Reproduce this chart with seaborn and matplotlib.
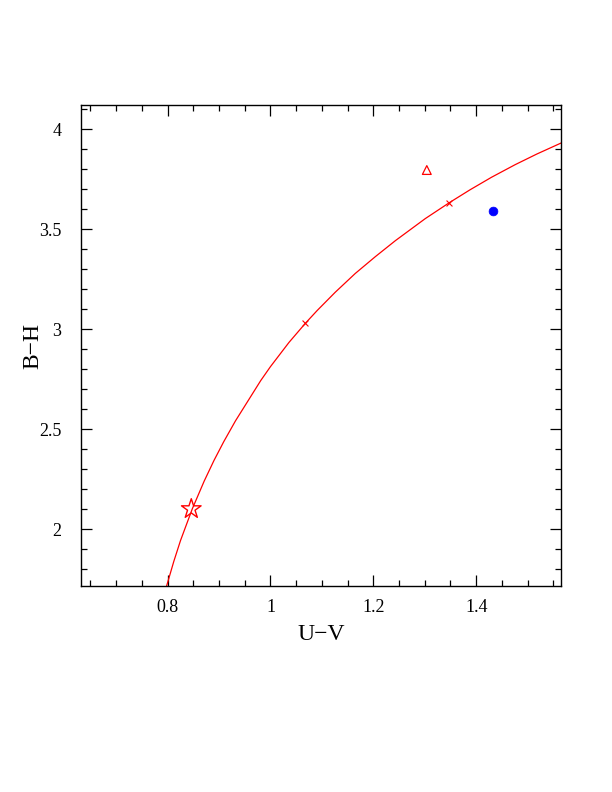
import matplotlib
matplotlib.use("Agg")
import matplotlib.pyplot as plt
import seaborn as sns
from matplotlib.ticker import MultipleLocator

sns.set_style("ticks")
plt.rcParams['font.family'] = ['Liberation Serif', 'DejaVu Serif']
for k in ['text.color', 'axes.labelcolor', 'xtick.color', 'ytick.color', 'axes.edgecolor']:
    plt.rcParams[k] = 'black'

# fitted curve
curve_uv = [0.798, 0.812, 0.825, 0.848, 0.871, 0.890, 0.909, 0.932, 0.981, 1.000,
            1.036, 1.068, 1.091, 1.126, 1.165, 1.204, 1.243, 1.301, 1.348, 1.388,
            1.430, 1.476, 1.518, 1.566]
curve_bh = [1.715, 1.838, 1.942, 2.101, 2.239, 2.342, 2.436, 2.541, 2.742, 2.812,
            2.933, 3.029, 3.093, 3.184, 3.278, 3.362, 3.442, 3.552, 3.632, 3.696,
            3.759, 3.822, 3.875, 3.931]

# points
star_uv, star_bh = [0.846], [2.10]
cross_uv, cross_bh = [1.068, 1.348], [3.03, 3.63]
tri_uv, tri_bh = [1.304], [3.795]
dot_uv, dot_bh = [1.432], [3.588]

fig = plt.figure(figsize=(6.12, 7.92), dpi=100)
ax = fig.add_axes([0.1319, 0.2601, 0.7848, 0.6073])

sns.lineplot(x=curve_uv, y=curve_bh, ax=ax, color='red', lw=0.9, sort=False)
sns.scatterplot(x=star_uv, y=star_bh, ax=ax, marker='*', s=220, facecolor='none',
                edgecolor='red', linewidth=1.0)
sns.scatterplot(x=cross_uv, y=cross_bh, ax=ax, marker='x', s=18, color='red', linewidth=0.8)
sns.scatterplot(x=tri_uv, y=tri_bh, ax=ax, marker='^', s=40, facecolor='none',
                edgecolor='red', linewidth=0.9)
sns.scatterplot(x=dot_uv, y=dot_bh, ax=ax, marker='o', s=40, color='blue', edgecolor='blue')

ax.set_xlim(0.631, 1.565)
ax.set_ylim(1.715, 4.12)
ax.xaxis.set_minor_locator(MultipleLocator(0.05))
ax.yaxis.set_minor_locator(MultipleLocator(0.1))
ax.set_xticks([0.8, 1.0, 1.2, 1.4])
ax.set_xticklabels(['0.8', '1', '1.2', '1.4'])
ax.set_yticks([2, 2.5, 3, 3.5, 4])
ax.set_yticklabels(['2', '2.5', '3', '3.5', '4'])
ax.tick_params(which='both', direction='in', top=True, right=True, color='black',
               labelsize=13)
ax.tick_params(axis='x', which='major', pad=9)
ax.tick_params(axis='y', which='major', pad=14)
ax.tick_params(which='major', length=8, width=0.9)
ax.tick_params(which='minor', length=4, width=0.9)
for s in ax.spines.values():
    s.set_linewidth(1.0)
    s.set_color('black')

ax.set_xlabel('U\u2212V', fontsize=17, labelpad=6)
ax.set_ylabel('B\u2212H', fontsize=17, labelpad=-3)

fig.savefig('out.png', dpi=100)
